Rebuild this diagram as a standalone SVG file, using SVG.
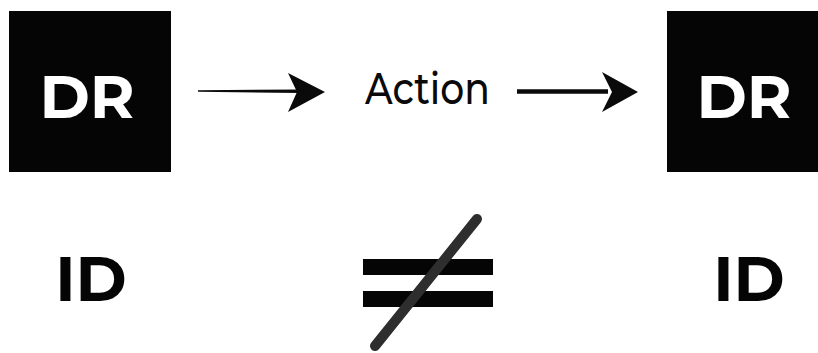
<svg xmlns="http://www.w3.org/2000/svg" width="818" height="353" viewBox="0 0 818 353">
<style>
.box{fill:#050505}
.lbl{font-family:"Montserrat","Liberation Sans",Arial,sans-serif;font-weight:bold;text-anchor:middle}
.w{fill:#ffffff}
.k{fill:#050505}
.act{font-family:"Montserrat","Liberation Sans",Arial,sans-serif;font-weight:500;font-size:44px;fill:#0a0a0a;text-anchor:middle}
.line{stroke:#0a0a0a;fill:none}
.head{fill:#0a0a0a}
</style>
<rect width="818" height="353" fill="#ffffff"/>
<g id="dr-left">
<rect class="box" x="9" y="11" width="162" height="161"/>
<text class="lbl w" x="87" y="118" font-size="61">DR</text>
</g>
<g id="action">
<text class="act" x="427.5" y="104" textLength="125" lengthAdjust="spacingAndGlyphs">Action</text>
</g>
<g id="dr-right">
<rect class="box" x="667" y="11" width="162" height="161"/>
<text class="lbl w" x="744" y="118" font-size="61">DR</text>
</g>
<g id="id-left">
<text class="lbl k" x="91" y="301" font-size="62">ID</text>
</g>
<g id="id-right">
<text class="lbl k" x="749" y="301" font-size="62">ID</text>
</g>
<g id="not-equal">
<rect x="363" y="259" width="130" height="16" fill="#050505"/>
<rect x="363" y="291" width="130" height="16" fill="#050505"/>
<line x1="477" y1="219" x2="375" y2="346" stroke="#2e2e2e" stroke-width="10" stroke-linecap="round"/>
</g>
<g id="connectors">
<path class="head" d="M198,90.2 L300,89.6 L300,93 L198,91.8 Z"/>
<path class="head" d="M288,73 L325,92 L288,112 L297,92 Z"/>
<line class="line" x1="517" y1="91.5" x2="608" y2="91.5" stroke-width="4.5"/>
<path class="head" d="M602,72 L638,92 L602,112 L612,92 Z"/>
</g>
</svg>
